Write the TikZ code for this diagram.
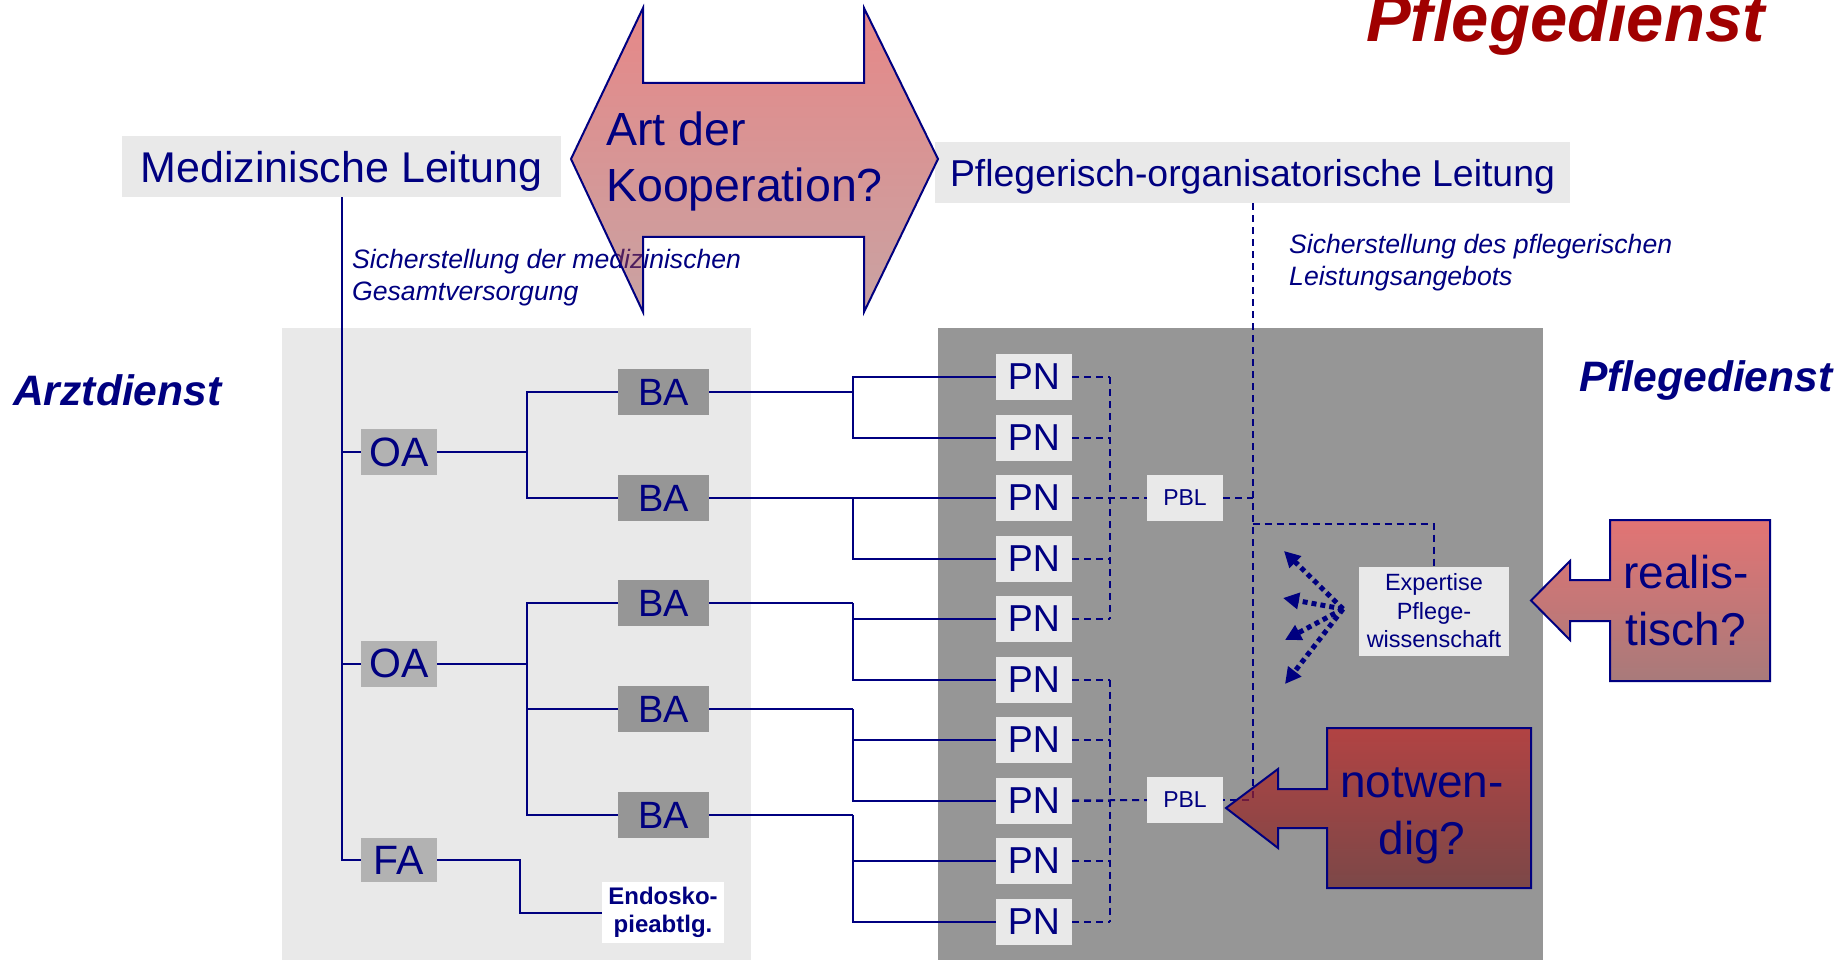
\documentclass[tikz,border=0pt]{standalone}
\usepackage{fontspec}
\setmainfont{Liberation Sans}
\usetikzlibrary{arrows.meta}
\definecolor{navy}{RGB}{0,0,128}
\definecolor{lgrey}{RGB}{233,233,233}
\definecolor{dgrey}{RGB}{150,150,150}
\definecolor{oagrey}{RGB}{178,178,178}
\definecolor{titlered}{RGB}{160,0,0}
\definecolor{kooptop}{RGB}{205,17,17}
\definecolor{koopbot}{RGB}{147,71,71}
\definecolor{realtop}{RGB}{226,116,116}
\definecolor{realbot}{RGB}{168,122,122}
\definecolor{nottop}{RGB}{190,33,33}
\definecolor{notbot}{RGB}{113,39,39}
\tikzset{
  ln/.style={draw=navy, line width=2pt},
  dl/.style={draw=navy, line width=2pt, dash pattern=on 7pt off 5pt},
  dotarrow/.style={draw=navy, line width=5pt, dash pattern=on 5pt off 4pt, -{Triangle[length=16pt,width=16pt]}},
  box/.style={inner sep=0pt, text=navy, align=center},
  headbox/.style={box, fill=lgrey, minimum height=61pt, text depth=0pt},
  oabox/.style={box, fill=oagrey, minimum width=76pt, minimum height=46pt, font=\fontsize{41}{41}\selectfont},
  babox/.style={box, fill=dgrey, minimum width=91pt, minimum height=46pt, font=\fontsize{38}{38}\selectfont},
  pnbox/.style={box, fill=lgrey, minimum width=76pt, minimum height=46pt, font=\fontsize{37.5}{37.5}\selectfont},
  pblbox/.style={box, fill=lgrey, minimum width=76pt, minimum height=46pt, font=\fontsize{23}{23}\selectfont},
  note/.style={inner sep=0pt, text=navy, align=left, font=\fontsize{26.6}{32}\selectfont\itshape},
  service/.style={inner sep=0pt, text=navy, font=\fontsize{42.6}{42.6}\selectfont\bfseries\itshape},
  calloutline/.style={draw=navy, line width=2pt},
  bigtext/.style={inner sep=0pt, text=navy, align=center, font=\fontsize{46}{57}\selectfont},
}
\begin{document}
\begin{tikzpicture}[x=1pt,y=-1pt]
\useasboundingbox (0,0) rectangle (1840,960);
% background panels
\fill[lgrey] (282,328) rectangle (751,960);
\fill[dgrey] (938,328) rectangle (1543,960);

% title and side labels
\node[inner sep=0pt, anchor=base west, text=titlered, font=\fontsize{67}{67}\selectfont\bfseries\itshape] (title) at (1366,42) {Pflegedienst};
\node[service, anchor=base west] (arzt) at (13,405) {Arztdienst};
\node[service, anchor=base west] (pflege) at (1579,391) {Pflegedienst};

% head boxes
\node[headbox, minimum width=439pt, font=\fontsize{43}{43}\selectfont] (med) at (341.5,166.5) {Medizinische Leitung};
\node[headbox, minimum width=635pt, font=\fontsize{37.4}{37.4}\selectfont] (pfl) at (1252.5,172.5) {Pflegerisch-organisatorische Leitung};

% notes (anchor = baseline of the last line)
\node[note, anchor=base west] (note1) at (352,300) {Sicherstellung der medizinischen\\Gesamtversorgung};
\node[note, anchor=base west] (note2) at (1289,285) {Sicherstellung des pflegerischen\\Leistungsangebots};

% cooperation double arrow
\path[draw=navy, line width=2pt, top color=kooptop, bottom color=koopbot, fill opacity=0.5]
  (571,159) -- (643,8) -- (643,83) -- (864,83) -- (864,8) -- (938,159)
  -- (864,312) -- (864,237) -- (643,237) -- (643,312) -- cycle;
\node[inner sep=0pt, anchor=base west, text=navy, align=left, font=\fontsize{46.5}{56}\selectfont] (koop) at (606,202) {Art der\\Kooperation?};

% physician nodes
\node[oabox] (OA1) at (399,452) {OA};
\node[oabox] (OA2) at (399,663.5) {OA};
\node[oabox, minimum height=44pt] (FA) at (399,860) {FA};
\foreach \i/\y in {1/392,2/498,3/603,4/709,5/815}
  \node[babox] (BA\i) at (663.5,\y) {BA};
\node[box, fill=white, minimum width=122pt, minimum height=61pt, font=\fontsize{24}{28}\selectfont\bfseries] (endo) at (663,912.5) {Endosko-\\pieabtlg.};

% nursing nodes
\foreach \i in {1,...,10}
  \node[pnbox] (PN\i) at (1034,{377+60.5*(\i-1)}) {PN};
\node[pblbox] (PBL1) at (1185,498) {PBL};
\node[pblbox] (PBL2) at (1185,800) {PBL};
\node[box, fill=lgrey, minimum width=150pt, minimum height=89pt, font=\fontsize{23.5}{28.5}\selectfont] (exp) at (1434,611) {Expertise\\Pflege-\\wissenschaft};

% physician tree
\draw[ln] (med.south) |- (FA.west);
\draw[ln] (OA1.west) -- (OA1.west -| med.south);
\draw[ln] (OA2.west) -- (OA2.west -| med.south);
\coordinate (f1) at (527,452);
\coordinate (f2) at (527,663.5);
\draw[ln] (OA1.east) -- (f1);
\draw[ln] (BA1.west) -| (f1) |- (BA2.west);
\draw[ln] (OA2.east) -- (f2);
\draw[ln] (BA3.west) -| (f2) |- (BA5.west);
\draw[ln] (BA4.west) -- (BA4.west -| f2);
\coordinate (fe) at (520,860);
\draw[ln] (FA.east) -- (fe) |- (endo.west);

% BA to PN
\foreach \b/\p/\q in {1/1/2,2/3/4,3/5/6,4/7/8,5/9/10}{
  \coordinate (br\b) at (853,0 |- BA\b.east);
  \draw[ln] (BA\b.east) -- (br\b);
  \draw[ln] (PN\p.west) -| (br\b) |- (PN\q.west);
}

% PN to PBL (dashed)
\coordinate (dx) at (1110,0);
\foreach \i in {1,...,10}
  \draw[dl] (PN\i.east) -- (PN\i.east -| dx);
\draw[dl] (PN1.east -| dx) -- (PN5.east -| dx);
\draw[dl] (PN6.east -| dx) -- (PN10.east -| dx);
\draw[dl] (PN3.east) -- (PBL1.west);
\draw[dl] (PN8.east) -- (PBL2.west);

% leadership dashed line
\draw[dl] (pfl.south) -- (pfl.south |- PBL2.east) -- (PBL2.east);
\draw[dl] (PBL1.east) -- (PBL1.east -| pfl.south);
\coordinate (ej) at (1252.5,524);
\draw[dl] (ej) -| (exp.north);

% dotted arrows from expertise
\coordinate (dsrc) at (1343,609);
\coordinate (dt1) at (1284,551);
\coordinate (dt2) at (1283,598);
\coordinate (dt3) at (1285,640);
\coordinate (dt4) at (1285,684);
\foreach \t in {dt1,dt2,dt3,dt4}
  \draw[dotarrow] (dsrc) -- (\t);

% callouts
\path[calloutline, top color=realtop, bottom color=realbot]
  (1610,520) -- (1770,520) -- (1770,681) -- (1610,681) -- (1610,621) -- (1570,621)
  -- (1570,640) -- (1531,600.5) -- (1570,561) -- (1570,580) -- (1610,580) -- cycle;
\node[bigtext, anchor=base] (real) at (1686,645) {realis-\\tisch?};
\path[calloutline, top color=nottop, bottom color=notbot, fill opacity=0.7]
  (1327,728) -- (1531,728) -- (1531,888) -- (1327,888) -- (1327,828) -- (1278,828)
  -- (1278,848) -- (1226,808) -- (1278,769) -- (1278,789) -- (1327,789) -- cycle;
\node[bigtext, anchor=base] (notw) at (1422,854) {notwen-\\dig?};
\end{tikzpicture}
\end{document}
